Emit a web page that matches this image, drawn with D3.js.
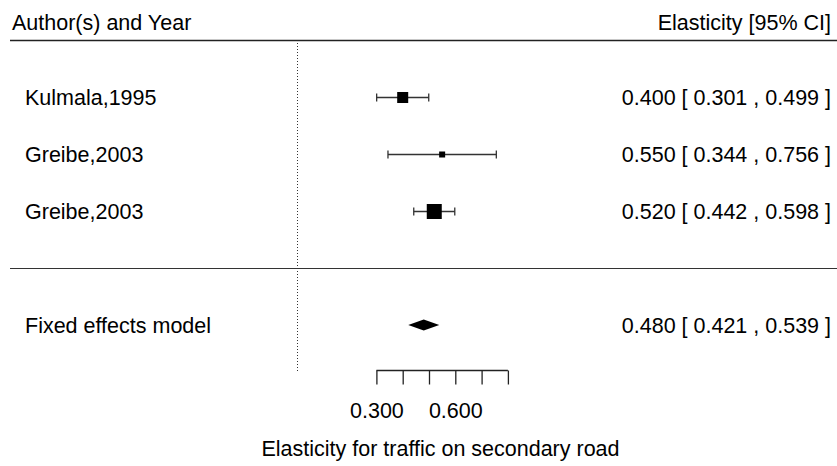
<!DOCTYPE html>
<html>
<head>
<meta charset="utf-8">
<script src="https://cdn.jsdelivr.net/npm/d3@7"></script>
<style>
  body { margin: 0; background: #fff; }
  svg text { font-family: "Liberation Sans", Arial, sans-serif; font-size: 21.5px; fill: #000; }
</style>
</head>
<body>
<svg id="chart" width="837" height="466"></svg>
<script>
// study rows
var studies = ['Kulmala,1995', 'Greibe,2003', 'Greibe,2003']
var estimates = [0.400, 0.550, 0.520]
var lowers = [0.301, 0.344, 0.442]
var uppers = [0.499, 0.756, 0.598]

// pooled estimate
var pooledLabel = 'Fixed effects model'
var pooled = [0.480, 0.421, 0.539]

var axisTicks = [0.3, 0.4, 0.5, 0.6, 0.7, 0.8]
var axisTickLabels = ['0.300', '', '', '0.600', '', '']
var axisTitle = 'Elasticity for traffic on secondary road'
var headerLeft = 'Author(s) and Year'
var headerRight = 'Elasticity [95% CI]'

var svg = d3.select('#chart')
var W = 837

var x = d3.scaleLinear().domain([0, 1]).range([297.5, 297.5 + 263])
var rowY = d3.scalePoint().domain(d3.range(studies.length)).range([97, 211])
var pooledY = 325

// inverse variance weights -> square size (linear, like metafor)
var weights = lowers.map(function(l, i){
  var se = (uppers[i] - l) / 3.92
  return 1 / (se * se)
})
var size = d3.scaleLinear().domain(d3.extent(weights)).range([6, 15])

function fmt(v){ return d3.format('.3f')(v) }

// header
svg.append('text').attr('x', 12).attr('y', 30).text(headerLeft)
svg.append('text').attr('x', 831).attr('y', 30).attr('text-anchor', 'end').text(headerRight)
svg.append('line').attr('x1', 10).attr('x2', W).attr('y1', 40.5).attr('y2', 40.5)
  .attr('stroke', '#222').attr('stroke-width', 1.6)

// reference line at 0
svg.append('line').attr('x1', x(0)).attr('x2', x(0)).attr('y1', 43).attr('y2', 372)
  .attr('stroke', '#333').attr('stroke-width', 1).attr('stroke-dasharray', '1,2')

// separator
svg.append('line').attr('x1', 10).attr('x2', W).attr('y1', 268.5).attr('y2', 268.5)
  .attr('stroke', '#333').attr('stroke-width', 1.2)

var rows = svg.selectAll('g.row').data(studies).enter().append('g').attr('class', 'row')

rows.append('text').attr('x', 25).attr('y', function(d, i){ return rowY(i) + 8 }).text(function(d){ return d })

rows.append('line')
  .attr('x1', function(d, i){ return x(lowers[i]) })
  .attr('x2', function(d, i){ return x(uppers[i]) })
  .attr('y1', function(d, i){ return rowY(i) + 0.5 })
  .attr('y2', function(d, i){ return rowY(i) + 0.5 })
  .attr('stroke', '#333').attr('stroke-width', 1.3)

;[lowers, uppers].forEach(function(arr){
  rows.append('line')
    .attr('x1', function(d, i){ return x(arr[i]) })
    .attr('x2', function(d, i){ return x(arr[i]) })
    .attr('y1', function(d, i){ return rowY(i) - 3.5 })
    .attr('y2', function(d, i){ return rowY(i) + 4.5 })
    .attr('stroke', '#333').attr('stroke-width', 1.3)
})

rows.append('rect')
  .attr('x', function(d, i){ return x(estimates[i]) - size(weights[i]) / 2 })
  .attr('y', function(d, i){ return rowY(i) + 0.5 - size(weights[i]) / 2 })
  .attr('width', function(d, i){ return size(weights[i]) })
  .attr('height', function(d, i){ return size(weights[i]) })
  .attr('fill', '#000')

rows.append('text').attr('x', 831).attr('text-anchor', 'end')
  .attr('y', function(d, i){ return rowY(i) + 8 })
  .text(function(d, i){ return fmt(estimates[i]) + ' [ ' + fmt(lowers[i]) + ' , ' + fmt(uppers[i]) + ' ]' })

// pooled row
svg.append('text').attr('x', 25).attr('y', pooledY + 8).text(pooledLabel)
svg.append('polygon')
  .attr('points', [
    [x(pooled[1]), pooledY], [x(pooled[0]), pooledY - 5.5],
    [x(pooled[2]), pooledY], [x(pooled[0]), pooledY + 5.5]
  ].map(function(p){ return p.join(',') }).join(' '))
  .attr('fill', '#000')
svg.append('text').attr('x', 831).attr('y', pooledY + 8).attr('text-anchor', 'end')
  .text(fmt(pooled[0]) + ' [ ' + fmt(pooled[1]) + ' , ' + fmt(pooled[2]) + ' ]')

// x axis
var axisG = svg.append('g').attr('transform', 'translate(0,370.5)')
axisG.call(d3.axisBottom(x).tickValues(axisTicks).tickSize(14).tickPadding(21)
  .tickFormat(function(d, i){ return axisTickLabels[i] }))
axisG.select('.domain').attr('d', 'M' + x(axisTicks[0]) + ',0H' + x(axisTicks[axisTicks.length - 1]))
  .attr('stroke', '#222').attr('stroke-width', 1.3)
axisG.selectAll('.tick line').attr('stroke', '#222').attr('stroke-width', 1.3)
axisG.selectAll('.tick text').attr('font-size', null).attr('font-family', null).attr('fill', '#000')
  .attr('dy', null).attr('y', 47)

svg.append('text').attr('x', 440.5).attr('y', 456).attr('text-anchor', 'middle').text(axisTitle)
</script>
</body>
</html>
